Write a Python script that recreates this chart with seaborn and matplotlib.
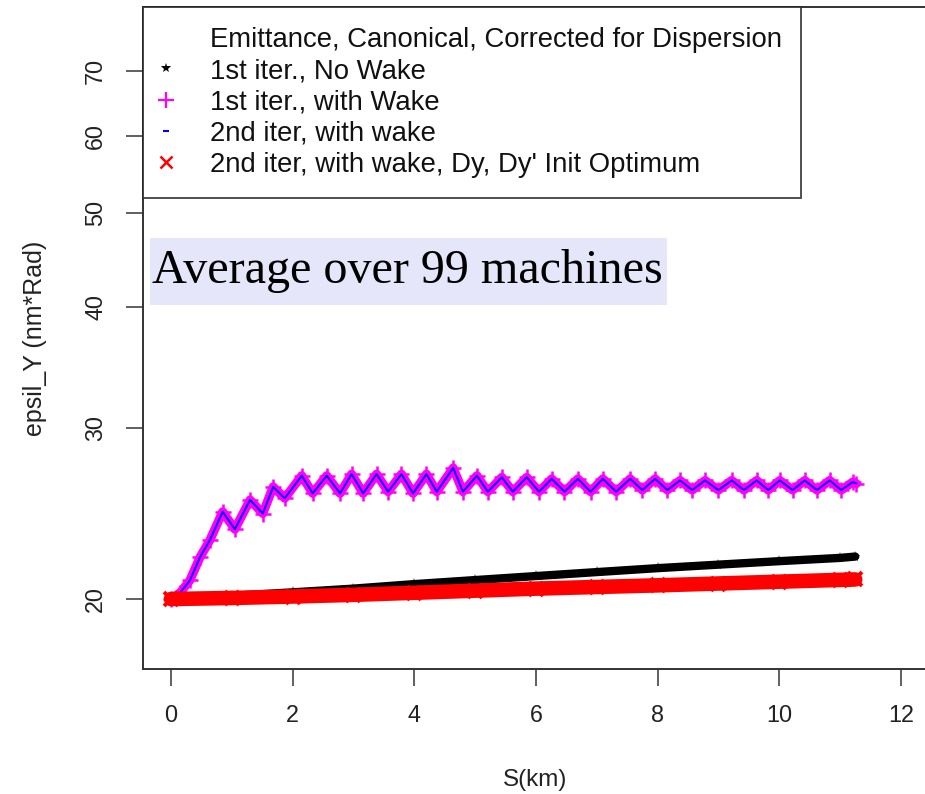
import matplotlib
matplotlib.use("Agg")
import matplotlib.pyplot as plt
from matplotlib.lines import Line2D
from matplotlib.patches import Rectangle
from matplotlib.ticker import NullLocator, FixedLocator, FixedFormatter
import seaborn as sns
import pandas as pd

# ---------------- data ----------------
nowake_x = [0, 1, 2, 3, 4, 5, 6, 7, 8, 9, 10, 11, 11.25]
nowake_y = [20.0, 20.15, 20.32, 20.5, 20.72, 20.92, 21.12, 21.32, 21.52, 21.7, 21.88, 22.05, 22.12]

wake_x = [0, 0.15, 0.31, 0.48, 0.64, 0.85, 1.05, 1.30, 1.51, 1.68, 1.87, 2.15,
          2.33, 2.56, 2.78, 2.97, 3.16, 3.38, 3.57, 3.79, 3.98, 4.20, 4.37, 4.64,
          4.80, 5.03, 5.21, 5.44, 5.62, 5.85, 6.05, 6.26, 6.47, 6.69, 6.90, 7.10,
          7.32, 7.55, 7.75, 7.96, 8.16, 8.37, 8.57, 8.78, 9.00, 9.22, 9.42, 9.63,
          9.82, 10.01, 10.22, 10.42, 10.62, 10.83, 11.02, 11.21, 11.27]
wake_y = [20.0, 20.3, 20.9, 22.1, 23.0, 24.6, 23.6, 25.3, 24.5, 26.1, 25.4, 26.8,
          25.7, 26.8, 25.7, 26.9, 25.7, 26.9, 25.8, 26.9, 25.7, 26.9, 25.8, 27.3,
          25.8, 26.8, 25.8, 26.7, 25.8, 26.7, 25.8, 26.6, 25.8, 26.6, 25.8, 26.6,
          25.8, 26.6, 25.9, 26.6, 25.9, 26.5, 25.9, 26.5, 25.9, 26.5, 25.9, 26.5,
          25.9, 26.5, 25.9, 26.5, 25.9, 26.5, 25.9, 26.4, 26.3]

wake2_x = list(wake_x)
wake2_y = list(wake_y)

opt_x = [0, 1, 2, 3, 4, 5, 6, 7, 8, 9, 10, 11, 11.25]
opt_y = [20.0, 20.05, 20.12, 20.2, 20.3, 20.4, 20.5, 20.58, 20.66, 20.75, 20.84, 20.93, 20.95]

x_ticks = [0, 2, 4, 6, 8, 10, 12]
y_ticks = [20, 30, 40, 50, 60, 70]

legend_title = "Emittance, Canonical, Corrected for Dispersion"
labels = ["1st iter., No Wake", "1st iter., with Wake", "2nd iter, with wake",
          "2nd iter, with wake, Dy, Dy' Init Optimum"]
annotation = "Average over 99 machines"

# ---------------- style ----------------
sns.set_style("ticks")
plt.rcParams["font.family"] = ["Liberation Sans", "DejaVu Sans"]

W, H = 925, 794
fig = plt.figure(figsize=(W / 100, H / 100), dpi=100)
ax = fig.add_axes([143 / W, (H - 669) / H, (927 - 143) / W, (669 - 7) / H])

df_nw = pd.DataFrame({"S": nowake_x, "eps": nowake_y})
df_w = pd.DataFrame({"S": wake_x, "eps": wake_y})
df_w2 = pd.DataFrame({"S": wake2_x, "eps": wake2_y})
df_o = pd.DataFrame({"S": opt_x, "eps": opt_y})

sns.lineplot(data=df_nw, x="S", y="eps", ax=ax, color="black", linewidth=6,
             marker="*", markersize=8, markeredgewidth=0, sort=False, estimator=None)
sns.lineplot(data=df_w, x="S", y="eps", ax=ax, color="#FF00FF", linewidth=6.5,
             marker="+", markersize=11, markeredgewidth=1.8, markeredgecolor="#FF00FF",
             sort=False, estimator=None)
sns.lineplot(data=df_w2, x="S", y="eps", ax=ax, color="#0000FF", linewidth=1.4,
             sort=False, estimator=None)
sns.lineplot(data=df_o, x="S", y="eps", ax=ax, color="#FF0000", linewidth=10.5,
             marker="x", markersize=10, markeredgewidth=2.8, markeredgecolor="#FF0000",
             sort=False, estimator=None)

ax.set_yscale("log")
ax.set_xlim(-0.46, 12.43)
ax.set_ylim(16.94, 81.5)
ax.xaxis.set_major_locator(FixedLocator(x_ticks))
ax.xaxis.set_major_formatter(FixedFormatter([str(t) for t in x_ticks]))
ax.yaxis.set_major_locator(FixedLocator(y_ticks))
ax.yaxis.set_major_formatter(FixedFormatter([str(t) for t in y_ticks]))
ax.yaxis.set_minor_locator(NullLocator())
ax.xaxis.set_minor_locator(NullLocator())

for s in ax.spines.values():
    s.set_visible(True)
    s.set_linewidth(1.4)
    s.set_color("#333333")

ax.tick_params(axis="both", direction="out", length=12.5, width=1.2, color="#444444",
               labelsize=16.8, labelcolor="#222222")
ax.tick_params(axis="x", pad=12.6)
ax.tick_params(axis="y", pad=13.3)
for lab in ax.get_yticklabels():
    lab.set_rotation(90)
    lab.set_va("center")

ax.set_xlabel("S(km)", fontsize=17.5, color="#222222", labelpad=30)
ax.set_ylabel("epsil_Y (nm*Rad)", fontsize=18, color="#222222", labelpad=27)

handles = [
    Line2D([], [], linestyle="none", marker=None),
    Line2D([], [], linestyle="none", marker="*", markersize=7, color="black", markeredgewidth=0),
    Line2D([], [], linestyle="none", marker="+", markersize=12, color="#FF00FF", markeredgewidth=1.6),
    Line2D([], [], linestyle="none", marker="_", markersize=4, color="#0000FF", markeredgewidth=1.5),
    Line2D([], [], linestyle="none", marker="x", markersize=9, color="#FF0000", markeredgewidth=1.8),
]
leg = ax.legend(handles, [legend_title] + labels, loc="upper left",
                bbox_to_anchor=(0, 1), borderaxespad=0, fontsize=19.8,
                frameon=True, fancybox=False, edgecolor="#222222",
                borderpad=0.72, handlelength=0.25, handletextpad=1.45,
                labelspacing=0.19)
leg.get_frame().set_linewidth(1.4)
for t in leg.get_texts():
    t.set_color("#111111")

fig.add_artist(Rectangle((150 / W, 1 - 305 / H), 517 / W, 67 / H,
                         transform=fig.transFigure, facecolor="#E6E6FA",
                         edgecolor="none", zorder=5))
fig.text(152 / W, 1 - 271 / H, annotation, fontsize=34.7,
         family=["Liberation Serif", "DejaVu Serif"],
         ha="left", va="center", color="black", zorder=6)

fig.savefig("out.png", dpi=100)
